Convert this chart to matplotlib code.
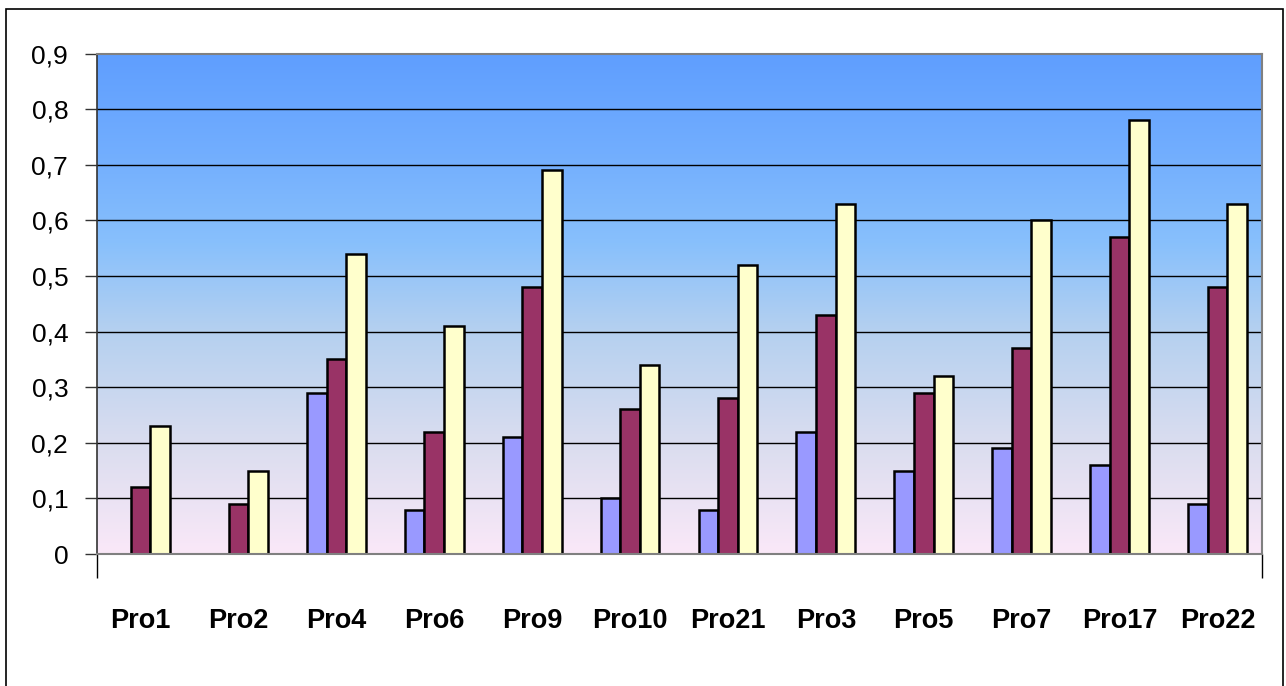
import numpy as np
import matplotlib.pyplot as plt
from matplotlib.colors import LinearSegmentedColormap
from matplotlib.patches import Rectangle

categories = ["Pro1", "Pro2", "Pro4", "Pro6", "Pro9", "Pro10",
              "Pro21", "Pro3", "Pro5", "Pro7", "Pro17", "Pro22"]
series_a = [0.0, 0.0, 0.29, 0.08, 0.21, 0.10, 0.08, 0.22, 0.15, 0.19, 0.16, 0.09]
series_b = [0.12, 0.09, 0.35, 0.22, 0.48, 0.26, 0.28, 0.43, 0.29, 0.37, 0.57, 0.48]
series_c = [0.23, 0.15, 0.54, 0.41, 0.69, 0.34, 0.52, 0.63, 0.32, 0.60, 0.78, 0.63]
y_ticks = [0.0, 0.1, 0.2, 0.3, 0.4, 0.5, 0.6, 0.7, 0.8, 0.9]

colors = ["#9999FF", "#993366", "#FFFFCC"]

plt.rcParams['font.family'] = ['Liberation Sans', 'DejaVu Sans']

fig = plt.figure(figsize=(12.86, 6.86), dpi=100)
ax = fig.add_axes([0.0757, 0.1924, 0.9054, 0.7296])

x = np.arange(len(categories))
xmin, xmax = -0.441, 11.452
ymin, ymax = 0.0, 0.9

# background gradient, pink at the bottom fading to blue at the top
grad = LinearSegmentedColormap.from_list(
    "bg", [(0.0, "#FAE8F8"), (0.22, "#DADDEF"), (0.45, "#B4D0F0"),
           (0.62, "#88C0FC"), (0.8, "#72AEFE"), (1.0, "#5F9EFF")])
ax.imshow(np.linspace(0, 1, 256).reshape(-1, 1), cmap=grad, aspect="auto",
          origin="lower", extent=[xmin, xmax, ymin, ymax], zorder=0)

# horizontal gridlines
for t in y_ticks[1:-1]:
    ax.axhline(t, color="black", lw=1.0, zorder=1)

w = 0.2
for off, vals, c in zip([-w, 0, w], [series_a, series_b, series_c], colors):
    vals = np.array(vals)
    keep = vals > 0
    ax.bar((x + off)[keep], vals[keep], width=w, color=c,
           edgecolor="black", linewidth=1.8, zorder=2)

ax.set_xlim(xmin, xmax)
ax.set_ylim(ymin, ymax)

ax.set_yticks(y_ticks)
ax.set_yticklabels([("%g" % t).replace(".", ",") for t in y_ticks], fontsize=19)
ax.tick_params(axis="y", length=9, width=1, pad=12, color="#333333")

ax.set_xticks(x)
ax.set_xticklabels(categories, fontsize=19.5, fontweight="bold")
ax.tick_params(axis="x", which="major", length=0, pad=39)
ax.set_xticks([xmin, xmax], minor=True)
ax.tick_params(axis="x", which="minor", length=17, width=1, color="black")

for side in ["top", "right", "bottom"]:
    ax.spines[side].set_color("#808080")
    ax.spines[side].set_linewidth(1.5)
ax.spines["left"].set_color("#333333")
ax.spines["left"].set_linewidth(1.2)

# outer chart frame
fig.patches.append(Rectangle((6 / 1286, -0.05), 1277 / 1286, 1 - 9 / 686 + 0.05,
                             transform=fig.transFigure, fill=False,
                             edgecolor="black", linewidth=1.2))

fig.savefig("out.png", dpi=100, facecolor="white")
